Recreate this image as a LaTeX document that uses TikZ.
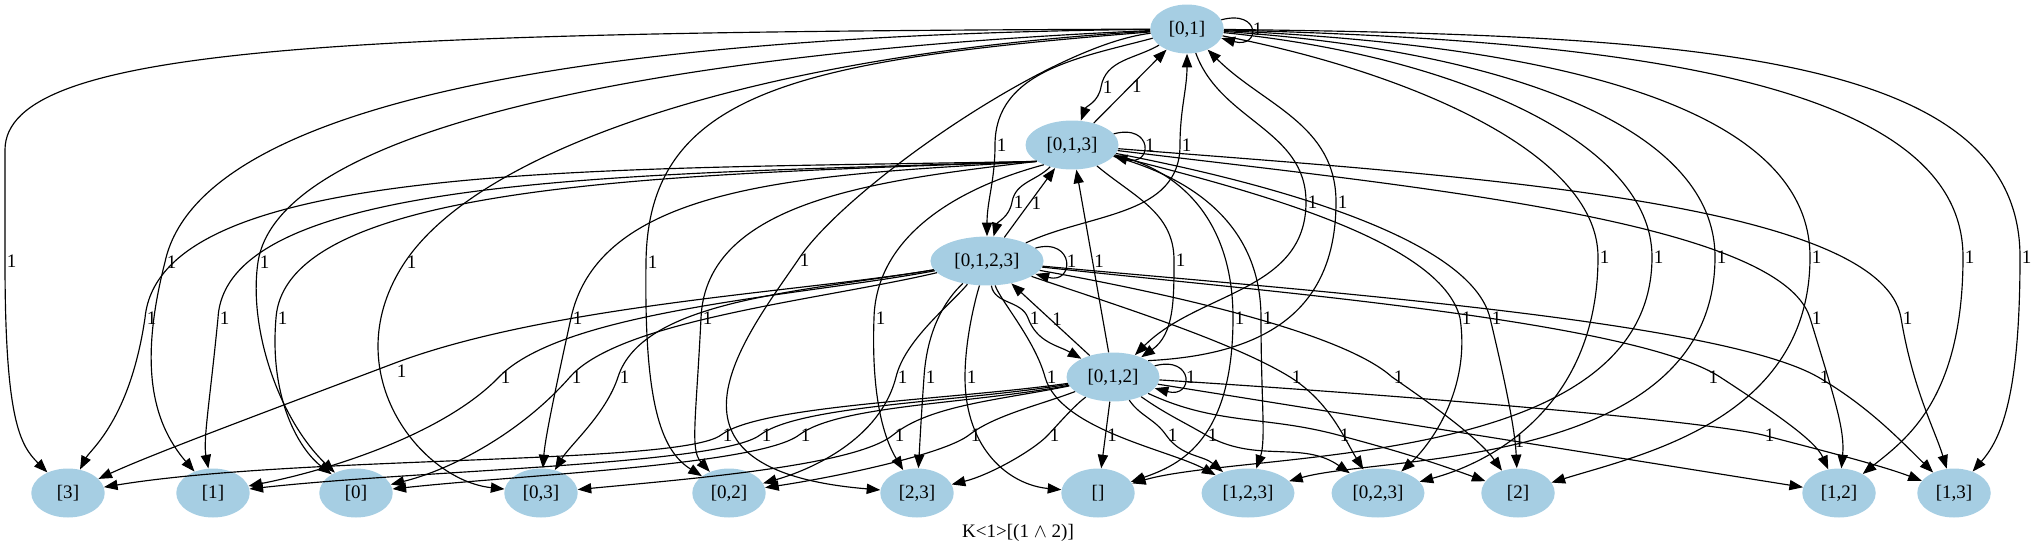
\documentclass[tikz,border=0pt]{standalone}
\usepackage{fontspec}
\setmainfont{Liberation Serif}
\usetikzlibrary{arrows.meta,shapes.geometric}
\definecolor{kblue}{HTML}{A6CEE3}
\tikzset{
  kstate/.style={ellipse,fill=kblue,inner xsep=5.5pt,inner ysep=3pt,minimum width=54pt,minimum height=36pt,font=\fontsize{14}{16}\selectfont},
  kedge/.style={line width=0.85pt,-{Triangle[length=10pt,width=7.5pt]}},
  klab/.style={anchor=west,inner sep=1pt,font=\fontsize{14}{16}\selectfont},
  kloop/.style={out=15,in=-15,distance=30pt},
}
\begin{document}
\begin{tikzpicture}[x=0.735pt,y=0.735pt]
\useasboundingbox (0,0) rectangle (2037,-553);

% states
\node[kstate] (s01) at (1187,-29) {[0,1]};
\node[kstate] (s013) at (1072,-145) {[0,1,3]};
\node[kstate] (s0123) at (987,-261) {[0,1,2,3]};
\node[kstate] (s012) at (1113,-377) {[0,1,2]};
\node[kstate] (s3) at (68,-493) {[3]};
\node[kstate] (s1) at (213,-493) {[1]};
\node[kstate] (s0) at (356,-493) {[0]};
\node[kstate] (s03) at (541,-493) {[0,3]};
\node[kstate] (s02) at (729,-493) {[0,2]};
\node[kstate] (s23) at (917,-493) {[2,3]};
\node[kstate] (sE) at (1098,-493) {[]};
\node[kstate] (s123) at (1248,-493) {[1,2,3]};
\node[kstate] (s023) at (1378,-493) {[0,2,3]};
\node[kstate] (s2) at (1518,-493) {[2]};
\node[kstate] (s12) at (1839,-493) {[1,2]};
\node[kstate] (s13) at (1954,-493) {[1,3]};
\node[font=\fontsize{14}{16}\selectfont] (title) at (1018,-533) {K<1>[(1 $\wedge$ 2)]};

% from [0,1]
\draw[kedge] (s01) to[kloop] node[klab]{1} (s01);
\draw[kedge] (s01) to[out=210,in=80] (1101,-87) node[klab]{1} to[out=-100,in=70] (s013);
\draw[kedge] (s01) to[out=195,in=90] (995,-145) node[klab]{1} to[out=-90,in=90] (s0123);
\draw[kedge] (s01) to[out=-70,in=90] (1306,-202) node[klab]{1} to[out=-90,in=45] (s012);
\draw[kedge] (s01) .. controls (350,-32) and (5,-45) .. (5,-150) -- (5,-261) node[klab]{1} .. controls (5,-420) and (20,-445) .. (s3);
\draw[kedge] (s01) .. controls (600,-35) and (200,-100) .. (165,-262) node[klab]{1} .. controls (140,-360) and (150,-420) .. (s1);
\draw[kedge] (s01) .. controls (700,-50) and (280,-120) .. (258,-262) node[klab]{1} .. controls (248,-330) and (280,-420) .. (s0);
\draw[kedge] (s01) .. controls (750,-55) and (480,-150) .. (405,-262) node[klab]{1} .. controls (333,-370) and (420,-480) .. (s03);
\draw[kedge] (s01) .. controls (800,-60) and (648,-90) .. (646,-262) node[klab]{1} .. controls (644,-400) and (660,-450) .. (s02);
\draw[kedge] (s01) .. controls (1050,-45) and (843,-190) .. (798,-260) node[klab]{1} .. controls (743,-340) and (640,-470) .. (s23);
\draw[kedge] (s01) .. controls (1400,-70) and (1598,-150) .. (1598,-257) node[klab]{1} .. controls (1598,-400) and (1500,-460) .. (s023);
\draw[kedge] (s01) .. controls (1450,-55) and (1652,-140) .. (1652,-257) node[klab]{1} .. controls (1652,-470) and (1250,-450) .. (sE);
\draw[kedge] (s01) .. controls (1500,-50) and (1715,-125) .. (1715,-257) node[klab]{1} .. controls (1715,-470) and (1380,-455) .. (s123);
\draw[kedge] (s01) .. controls (1550,-45) and (1810,-105) .. (1810,-257) node[klab]{1} .. controls (1810,-420) and (1640,-455) .. (s2);
\draw[kedge] (s01) .. controls (1620,-40) and (1963,-80) .. (1963,-257) node[klab]{1} .. controls (1963,-400) and (1905,-440) .. (s12);
\draw[kedge] (s01) .. controls (1700,-35) and (2020,-55) .. (2020,-257) node[klab]{1} .. controls (2020,-400) and (2000,-440) .. (s13);

% from [0,1,3]
\draw[kedge] (s013) to[kloop] node[klab]{1} (s013);
\draw[kedge] (s013) -- node[klab]{1} (s01);
\draw[kedge] (s013) to[out=225,in=80] (1012,-202) node[klab]{1} to[out=-100,in=75] (s0123);
\draw[kedge] (s013) to[out=-40,in=90] (1174,-260) node[klab]{1} to[out=-90,in=35] (s012);
\draw[kedge] (s013.205) .. controls (600,-170) and (160,-160) .. (145,-318) node[klab]{1} .. controls (130,-420) and (90,-450) .. (s3);
\draw[kedge] (s013.205) .. controls (650,-175) and (226,-172) .. (218,-318) node[klab]{1} .. controls (210,-400) and (203,-440) .. (s1);
\draw[kedge] (s013.205) .. controls (700,-175) and (286,-178) .. (276,-318) node[klab]{1} .. controls (269,-400) and (300,-450) .. (s0);
\draw[kedge] (s013.205) .. controls (820,-175) and (601,-180) .. (571,-318) node[klab]{1} .. controls (553,-400) and (545,-440) .. (s03);
\draw[kedge] (s013.205) .. controls (880,-180) and (706,-200) .. (701,-318) node[klab]{1} .. controls (696,-420) and (690,-450) .. (s02);
\draw[kedge] (s013.215) .. controls (950,-190) and (876,-240) .. (874,-318) node[klab]{1} .. controls (871,-400) and (885,-440) .. (s23);
\draw[kedge] (s013) .. controls (1180,-170) and (1233,-220) .. (1233,-318) node[klab]{1} .. controls (1233,-440) and (1180,-465) .. (sE);
\draw[kedge] (s013) .. controls (1200,-180) and (1261,-230) .. (1261,-318) node[klab]{1} .. controls (1261,-400) and (1266,-440) .. (s123);
\draw[kedge] (s013) .. controls (1250,-190) and (1441,-240) .. (1460,-318) node[klab]{1} .. controls (1471,-390) and (1430,-445) .. (s023);
\draw[kedge] (s013) .. controls (1280,-185) and (1471,-240) .. (1490,-318) node[klab]{1} .. controls (1506,-385) and (1515,-430) .. (s2);
\draw[kedge] (s013) .. controls (1400,-185) and (1780,-220) .. (1810,-318) node[klab]{1} .. controls (1835,-400) and (1845,-430) .. (s12);
\draw[kedge] (s013) .. controls (1450,-175) and (1881,-200) .. (1901,-318) node[klab]{1} .. controls (1913,-390) and (1935,-430) .. (s13);

% from [0,1,2,3]
\draw[kedge] (s0123) to[kloop] node[klab]{1} (s0123);
\draw[kedge] (s0123) to[out=25,in=-90] (1180,-145) node[klab]{1} to[out=90,in=-90] (s01);
\draw[kedge] (s0123) -- node[klab]{1} (s013);
\draw[kedge] (s0123) to[out=-80,in=110] (1028,-318) node[klab]{1} to[out=-70,in=150] (s012);
\draw[kedge] (s0123) .. controls (800,-292) and (550,-305) .. (395,-363) node[klab,anchor=north west]{1} .. controls (260,-414) and (150,-455) .. (s3);
\draw[kedge] (s0123) .. controls (800,-296) and (564,-310) .. (499,-377) node[klab]{1} .. controls (444,-434) and (330,-470) .. (s1);
\draw[kedge] (s0123) .. controls (820,-300) and (620,-320) .. (570,-377) node[klab]{1} .. controls (520,-434) and (450,-470) .. (s0);
\draw[kedge] (s0123) .. controls (800,-292) and (643,-300) .. (618,-377) node[klab]{1} .. controls (606,-414) and (570,-445) .. (s03);
\draw[kedge] (s0123) .. controls (950,-305) and (905,-340) .. (896,-377) node[klab]{1} .. controls (880,-440) and (810,-470) .. (s02);
\draw[kedge] (s0123) .. controls (945,-300) and (927,-330) .. (924,-377) node[klab]{1} .. controls (921,-420) and (920,-440) .. (s23);
\draw[kedge] (s0123) .. controls (975,-300) and (965,-340) .. (965,-377) node[klab]{1} .. controls (965,-450) and (1010,-485) .. (sE);
\draw[kedge] (s0123) .. controls (1000,-300) and (1035,-340) .. (1045,-377) node[klab]{1} .. controls (1060,-430) and (1170,-450) .. (s123);
\draw[kedge] (s0123) .. controls (1100,-300) and (1230,-340) .. (1290,-377) node[klab]{1} .. controls (1330,-402) and (1345,-440) .. (s023);
\draw[kedge] (s0123) .. controls (1150,-290) and (1340,-330) .. (1392,-377) node[klab]{1} .. controls (1440,-410) and (1480,-440) .. (s2);
\draw[kedge] (s0123) .. controls (1250,-290) and (1632,-320) .. (1720,-377) node[klab,anchor=east]{1} .. controls (1772,-411) and (1815,-440) .. (s12);
\draw[kedge] (s0123) .. controls (1300,-290) and (1718,-320) .. (1818,-377) node[klab]{1} .. controls (1868,-406) and (1900,-440) .. (s13);

% from [0,1,2]
\draw[kedge] (s012) to[kloop] node[klab]{1} (s012);
\draw[kedge] (s012.25) .. controls (1260,-355) and (1336,-315) .. (1336,-202) node[klab]{1} to[out=90,in=-45] (s01);
\draw[kedge] (s012) -- node[klab]{1} (s013);
\draw[kedge] (s012) -- node[klab]{1} (s0123);
\draw[kedge] (s012) .. controls (950,-400) and (761,-405) .. (721,-435) node[klab]{1} .. controls (681,-465) and (300,-455) .. (s3);
\draw[kedge] (s012) .. controls (960,-402) and (800,-405) .. (760,-435) node[klab]{1} .. controls (720,-465) and (420,-470) .. (s1);
\draw[kedge] (s012) .. controls (970,-404) and (839,-405) .. (799,-435) node[klab]{1} .. controls (759,-465) and (520,-475) .. (s0);
\draw[kedge] (s012) .. controls (1000,-400) and (930,-405) .. (893,-435) node[klab]{1} .. controls (856,-465) and (700,-478) .. (s03);
\draw[kedge] (s012) .. controls (1040,-405) and (995,-415) .. (969,-435) node[klab]{1} .. controls (943,-455) and (830,-478) .. (s02);
\draw[kedge] (s012) .. controls (1075,-405) and (1062,-420) .. (1048,-435) node[klab]{1} .. controls (1034,-450) and (990,-475) .. (s23);
\draw[kedge] (s012) -- node[klab]{1} (sE);
\draw[kedge] (s012) to[out=-55,in=125] (1166,-435) node[klab]{1} to[out=-55,in=140] (s123);
\draw[kedge] (s012) to[out=-35,in=150] (1206,-435) node[klab]{1} to[out=-30,in=145] (s023);
\draw[kedge] (s012) to[out=-25,in=165] (1338,-435) node[klab]{1} to[out=-15,in=160] (s2);
\draw[kedge] (s012) -- node[klab,pos=.55]{1} (s12);
\draw[kedge] (s012) .. controls (1400,-395) and (1700,-420) .. (1763,-435) node[klab]{1} .. controls (1820,-450) and (1880,-465) .. (s13);
\end{tikzpicture}
\end{document}
